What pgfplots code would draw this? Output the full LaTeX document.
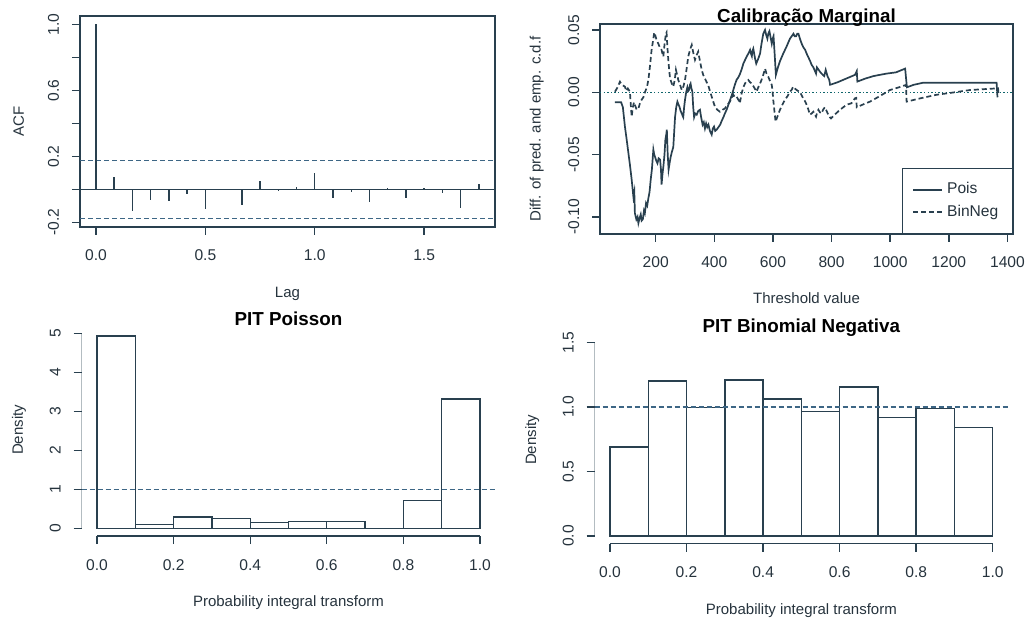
\documentclass[border=0pt]{standalone}
\usepackage{fontspec}
\setmainfont{Liberation Sans}
\usepackage{pgfplots}
\pgfplotsset{compat=1.18}

\definecolor{ln}{rgb}{0.16,0.25,0.31}
\definecolor{ci}{rgb}{0.24,0.40,0.52}
\definecolor{tx}{rgb}{0.15,0.20,0.24}

\newcommand{\tickfont}{\fontsize{7.8}{9}\selectfont}
\newcommand{\labfont}{\fontsize{7.5}{9}\selectfont}
\newcommand{\titfont}{\fontsize{9.4}{11}\selectfont\bfseries}

\pgfplotsset{
  every axis title shift=0pt,
  rstyle/.style={
    scale only axis,
    axis line style={ln, line width=0.7pt},
    tick style={ln, line width=0.7pt},
    tick align=outside,
    major tick length=4pt,
    xtick pos=bottom, ytick pos=left,
    ticklabel style={font=\tickfont, text=tx},
    xticklabel style={anchor=base},
    yticklabel style={rotate=90, anchor=base},
    xticklabel shift=13pt,
    yticklabel shift=6.5pt,
    label style={font=\labfont, text=tx},
    title style={font=\titfont},
  },
  histo/.style={
    rstyle,
    axis line style={draw=none},
    xmin=-0.04, xmax=1.04,
    xtick={0,0.2,0.4,0.6,0.8,1},
    xticklabels={0.0,0.2,0.4,0.6,0.8,1.0},
    xlabel={Probability integral transform},
    ylabel={Density},
  },
}

\begin{document}
\begin{tikzpicture}
\useasboundingbox (0,0) rectangle (513pt,309.5pt);

% ---- ACF ----
\begin{axis}[rstyle,
  at={(40pt,196pt)}, anchor=south west,
  width=207.5pt, height=105.5pt,
  xmin=-0.073, xmax=1.824, ymin=-0.228, ymax=1.05,
  xtick={0,0.5,1,1.5}, xticklabels={0.0,0.5,1.0,1.5},
  ytick={-0.2,0,0.2,0.4,0.6,0.8,1.0},
  yticklabels={-0.2,{},0.2,{},0.6,{},1.0},
  xlabel={Lag}, ylabel={ACF},
  xlabel style={at={(axis description cs:0.5,-0.335)}, anchor=base},
  ylabel style={at={(axis description cs:-0.135,0.5)}, anchor=base},
]
\addplot[ln, line width=0.7pt] coordinates {(-0.073,0) (1.824,0)};
\addplot[ci, line width=0.7pt, dash pattern=on 2.5pt off 1.5pt] coordinates {(-0.073,0.175) (1.824,0.175)};
\addplot[ci, line width=0.7pt, dash pattern=on 2.5pt off 1.5pt] coordinates {(-0.073,-0.178) (1.824,-0.178)};
\addplot[ycomb, ln, line width=0.7pt] coordinates {
  (0,1.0) (0.0833,0.073) (0.1667,-0.131) (0.25,-0.067) (0.3333,-0.073)
  (0.4167,-0.028) (0.5,-0.119) (0.5833,-0.004) (0.6667,-0.097) (0.75,0.050)
  (0.8333,-0.008) (0.9167,0.016) (1.0,0.099) (1.0833,-0.055) (1.1667,-0.018)
  (1.25,-0.077) (1.3333,0.006) (1.4167,-0.050) (1.5,0.008) (1.5833,-0.022)
  (1.6667,-0.111) (1.75,0.034)};
\end{axis}

% ---- Calibracao Marginal ----
\begin{axis}[rstyle,
  at={(300pt,192.5pt)}, anchor=south west,
  width=206.5pt, height=105pt,
  xmin=10, xmax=1419, ymin=-0.1137, ymax=0.0548,
  xtick={200,400,600,800,1000,1200,1400},
  xticklabels={200,400,600,800,1000,1200,1400},
  ytick={-0.1,-0.05,0,0.05},
  yticklabels={-0.10,-0.05,0.00,0.05},
  title={Calibração Marginal},
  title style={at={(axis description cs:0.5,1.006)}, anchor=base},
  xlabel={Threshold value}, ylabel={Diff. of pred. and emp. c.d.f},
  xlabel style={at={(axis description cs:0.5,-0.333)}, anchor=base},
  ylabel style={at={(axis description cs:-0.1436,0.5)}, anchor=base},
  legend style={at={(axis description cs:1,0)}, anchor=south east,
    draw=ln, line width=0.7pt, fill=white, font=\tickfont, text=tx,
    inner xsep=5pt, inner ysep=5pt, row sep=0pt},
  legend cell align=left,
  legend image code/.code={\draw[#1] (0pt,0pt) -- (14.5pt,0pt);},
]
\addplot[teal!60!ln, line width=0.7pt, dash pattern=on 0.7pt off 1.1pt, forget plot]
  coordinates {(10,0) (1419,0)};
\addplot[ln, line width=0.85pt] coordinates {
(61,-0.008) (82,-0.008) (88,-0.012) (95,-0.0275) (101,-0.038) (107,-0.049)
(112,-0.058) (118,-0.070) (124,-0.084) (127,-0.080) (129,-0.097) (134,-0.102)
(138,-0.100) (141,-0.105) (145,-0.101) (149,-0.098) (152,-0.103) (156,-0.102)
(160,-0.095) (163,-0.097) (167,-0.089) (171,-0.091) (175,-0.085) (179,-0.080)
(183,-0.070) (187,-0.062) (192,-0.046) (195,-0.050) (198,-0.052) (202,-0.055)
(206,-0.057) (210,-0.053) (215,-0.054) (218,-0.062) (220,-0.074) (223,-0.066)
(226,-0.060) (230,-0.050) (233,-0.038) (236,-0.034) (238,-0.030) (241,-0.050)
(244,-0.062) (248,-0.056) (251,-0.052) (255,-0.048) (260,-0.044) (263,-0.032)
(266,-0.020) (270,-0.012) (274,-0.0075) (278,-0.010) (281,-0.0115) (285,-0.015)
(289,-0.017) (292,-0.019) (294,-0.020) (297,-0.012) (300,-0.006) (304,0.000)
(308,0.004) (311,0.001) (314,0.002) (317,0.006) (319,0.007) (322,0.003)
(325,0.0005) (328,-0.012) (331,-0.020) (335,-0.017) (340,-0.018) (345,-0.015)
(351,-0.014) (355,-0.020) (360,-0.026) (364,-0.024) (368,-0.029) (372,-0.025)
(376,-0.028) (380,-0.026) (385,-0.031) (391,-0.034) (395,-0.029) (399,-0.0275)
(403,-0.031) (408,-0.030) (414,-0.028) (420,-0.026) (425,-0.023) (431,-0.020)
(436,-0.017) (442,-0.014) (448,-0.010) (454,-0.006) (460,-0.002) (465,0.002)
(470,0.006) (476,0.010) (482,0.012) (488,0.015) (494,0.019) (499,0.023)
(505,0.026) (511,0.029) (516,0.031) (522,0.034) (525,0.031) (528,0.029)
(530,0.033) (533,0.035) (539,0.027) (543,0.023) (550,0.027) (556,0.031)
(561,0.039) (567,0.047) (573,0.050) (577,0.046) (581,0.043) (584,0.047)
(588,0.049) (592,0.044) (596,0.039) (599,0.043) (602,0.045) (606,0.030)
(610,0.014) (617,0.020) (624,0.025) (635,0.031) (647,0.037) (658,0.043)
(664,0.045) (670,0.047) (674,0.045) (679,0.045) (683,0.047) (687,0.047)
(692,0.043) (698,0.039) (704,0.036) (710,0.034) (715,0.031) (721,0.028)
(727,0.025) (732,0.022) (738,0.020) (747,0.015) (750,0.020) (756,0.018)
(762,0.016) (770,0.014) (775,0.013) (780,0.018) (786,0.013) (792,0.010)
(795,0.006) (820,0.008) (840,0.010) (860,0.012) (880,0.014) (886,0.017)
(888,0.0086) (915,0.011) (943,0.013) (965,0.014) (988,0.015) (1020,0.016)
(1051,0.019) (1057,0.004) (1080,0.006) (1113,0.0077) (1363,0.0077) (1366,-0.004)};
\addlegendentry{Pois}
\addplot[ln, line width=0.85pt, dash pattern=on 2.5pt off 1.5pt] coordinates {
(61,0.0005) (70,0.004) (78,0.0085) (85,0.006) (95,0.0045) (100,0.001)
(105,0.003) (112,0.0005) (115,-0.010) (118,-0.0196) (122,-0.012) (126,-0.008)
(129,-0.010) (135,-0.014) (141,-0.013) (146,-0.009) (152,-0.006) (158,-0.004)
(164,0.0005) (170,0.004) (175,0.0099) (180,0.020) (186,0.034) (190,0.040)
(192,0.043) (195,0.048) (197,0.047) (203,0.042) (209,0.039) (214,0.036)
(220,0.034) (223,0.031) (226,0.0286) (229,0.036) (232,0.042) (235,0.047)
(237,0.048) (240,0.036) (243,0.026) (246,0.018) (249,0.011) (255,0.007)
(260,0.0045) (265,0.010) (269,0.018) (273,0.014) (277,0.0099) (283,0.006)
(289,0.0018) (295,0.005) (300,0.0099) (305,0.018) (311,0.0286) (317,0.034)
(323,0.038) (328,0.032) (334,0.026) (340,0.030) (345,0.0326) (351,0.025)
(357,0.018) (362,0.014) (368,0.011) (374,0.008) (379,0.0059) (385,0.001)
(391,-0.0035) (397,-0.008) (402,-0.0115) (410,-0.014) (419,-0.0156) (428,-0.014)
(436,-0.013) (445,-0.010) (453,-0.0075) (465,-0.002) (470,-0.004) (476,-0.0035)
(482,-0.006) (487,-0.0088) (493,-0.001) (499,0.004) (505,0.0072) (511,0.009)
(516,0.0099) (522,0.008) (527,0.0072) (533,0.005) (538,0.003) (544,0.0005)
(550,0.004) (556,0.007) (561,0.0099) (567,0.014) (573,0.019) (578,0.015)
(584,0.0125) (590,0.009) (596,0.0059) (599,0.0) (601,-0.006) (605,-0.015)
(609,-0.0236) (616,-0.019) (624,-0.014) (632,-0.010) (641,-0.006) (650,-0.003)
(658,0.0005) (664,0.002) (669,0.0045) (675,0.003) (681,0.0018) (686,0.001)
(692,0.0005) (697,-0.002) (703,-0.0048) (709,-0.007) (715,-0.010) (721,-0.014)
(726,-0.018) (732,-0.017) (738,-0.0156) (743,-0.018) (747,-0.0196) (751,-0.016)
(755,-0.014) (760,-0.016) (766,-0.017) (771,-0.014) (777,-0.012) (783,-0.015)
(789,-0.018) (794,-0.020) (798,-0.021) (815,-0.017) (829,-0.014) (840,-0.012)
(851,-0.010) (868,-0.0088) (880,-0.0048) (884,-0.0045) (886,-0.012) (910,-0.0095)
(931,-0.0075) (965,-0.003) (999,0.0018) (1030,0.004) (1054,0.0059) (1056,-0.0075)
(1100,-0.005) (1158,-0.002) (1220,0.0) (1272,0.0018) (1306,0.0023) (1340,0.0028)
(1368,0.0032) (1370,-0.0025)};
\addlegendentry{BinNeg}
\end{axis}

% ---- PIT Poisson ----
\begin{axis}[histo,
  at={(40.85pt,41.45pt)}, anchor=south west,
  width=206.8pt, height=105.3pt,
  ymin=-0.2, ymax=5.2,
  ytick={0,1,2,3,4,5},
  yticklabels={0,1,2,3,4,5},
  title={PIT Poisson},
  title style={at={(axis description cs:0.5,1.002)}, anchor=base},
  xlabel style={at={(axis description cs:0.5,-0.332)}, anchor=base},
  ylabel style={at={(axis description cs:-0.142,0.504)}, anchor=base},
]
\addplot[ybar interval, draw=ln, fill=white, line width=0.7pt] coordinates {
  (0.0,4.93) (0.1,0.10) (0.2,0.29) (0.3,0.25) (0.4,0.15)
  (0.5,0.18) (0.6,0.18) (0.7,0.0) (0.8,0.71) (0.9,3.32) (1.0,3.32)};
\addplot[ci, line width=0.7pt, dash pattern=on 2.5pt off 1.5pt] coordinates {(-0.04,1) (1.04,1)};
\draw[ln, line width=0.7pt] (axis cs:0,-0.2) -- (axis cs:1,-0.2);
\draw[ln, line width=0.7pt] (axis cs:-0.04,0) -- (axis cs:-0.04,5);
\end{axis}

% ---- PIT Binomial Negativa ----
\begin{axis}[histo,
  at={(297.35pt,37.65pt)}, anchor=south west,
  width=206.65pt, height=104.55pt,
  ymin=-0.06, ymax=1.56,
  ytick={0,0.5,1,1.5},
  yticklabels={0.0,0.5,1.0,1.5},
  title={PIT Binomial Negativa},
  title style={at={(axis description cs:0.5,1.009)}, anchor=base},
  xlabel style={at={(axis description cs:0.5,-0.341)}, anchor=base},
  ylabel style={at={(axis description cs:-0.142,0.496)}, anchor=base},
]
\addplot[ybar interval, draw=ln, fill=white, line width=0.7pt] coordinates {
  (0.0,0.69) (0.1,1.199) (0.2,0.995) (0.3,1.207) (0.4,1.062)
  (0.5,0.966) (0.6,1.155) (0.7,0.92) (0.8,0.987) (0.9,0.842) (1.0,0.842)};
\addplot[ci, line width=0.7pt, dash pattern=on 2.5pt off 1.5pt] coordinates {(-0.04,1) (1.04,1)};
\draw[ln, line width=0.7pt] (axis cs:0,-0.06) -- (axis cs:1,-0.06);
\draw[ln, line width=0.7pt] (axis cs:-0.04,0) -- (axis cs:-0.04,1.5);
\end{axis}
\end{tikzpicture}
\end{document}
